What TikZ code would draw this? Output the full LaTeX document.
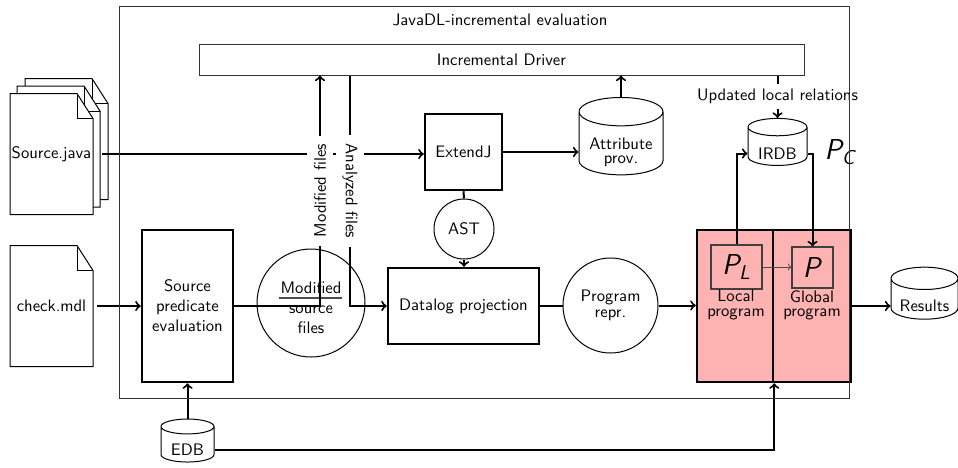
\documentclass[tikz,border=0pt]{standalone}
\usepackage{amsmath}
\usetikzlibrary{shapes.geometric,calc}

% dog-eared page outline centred at (#1,#2), 83 x 121 units
\newcommand\docoutline[2]{%
  \draw[line width=0.6pt, fill=white]
    ({#1-41.5},{#2-60.5}) -- ({#1+25.5},{#2-60.5}) -- ({#1+41.5},{#2-35.5})
    -- ({#1+41.5},{#2+60.5}) -- ({#1-41.5},{#2+60.5}) -- cycle;
  \draw[line width=0.6pt]
    ({#1+25.5},{#2-60.5}) -- ({#1+25.5},{#2-35.5}) -- ({#1+41.5},{#2-35.5});}
% invisible two-line block that sizes a cylinder's caps
\newcommand\capsize[2]{\phantom{\begin{tabular}{@{}c@{}}#1\\[-3.4pt]#2\end{tabular}}}

\begin{document}
\begin{tikzpicture}[x=0.6pt,y=-0.6pt,font=\sffamily,
  thinbox/.style={draw=black!80, line width=0.6pt, rectangle, inner sep=0pt},
  boldbox/.style={draw, line width=1.5pt, rectangle, fill=white, align=center, inner sep=0pt},
  roundnode/.style={draw, circle, line width=0.6pt, align=center, inner sep=0pt},
  dbnode/.style={draw, cylinder, shape border rotate=90, aspect=0.45, line width=0.6pt,
                 inner sep=0pt},
  docpage/.style={rectangle, inner sep=0pt, minimum width=49.8pt, minimum height=72.6pt},
  progbox/.style={draw, line width=1.5pt, fill=red!30, minimum width=45.6pt, minimum height=91.2pt},
  pbox/.style={draw=black!75, line width=0.7pt, inner sep=0pt},
  conn/.style={line width=1.2pt},
  thinconn/.style={line width=0.6pt, draw=black!70},
  tag/.style={fill=white, inner xsep=5pt, inner ysep=4pt},
  twoline/.style={align=center, inner sep=1pt}
]
\useasboundingbox (0,0) rectangle (958,467);

% input documents
\docoutline{66.5}{139}
\docoutline{58.5}{146.5}
\docoutline{51.5}{154}
\node[docpage] (srcjava) at (51.5,154) {Source.java};
\docoutline{51.5}{306}
\node[docpage] (checkmdl) at (51.5,306) {check.mdl};

% main blocks
\node[thinbox, minimum width=363pt, minimum height=18.6pt] (driver) at (501.5,59.5) {Incremental Driver};
\node[boldbox, minimum width=54.6pt, minimum height=91.2pt] (spe) at (187.5,306) {Source\\predicate\\evaluation};
\node[roundnode, minimum size=64.8pt] (msf) at (311,303) {};
\node[twoline] (msftxt) at (311,308) {Modified\\source\\files};
\draw[line width=1pt, black!70] ($(msf.center)+(-32,-5)$) -- ($(msf.center)+(31,-5)$);
\node[boldbox, minimum width=46.2pt, minimum height=45.6pt] (extendj) at (463.5,152) {ExtendJ};
\node[roundnode, minimum size=36pt] (ast) at (464,229) {AST};
\node[boldbox, minimum width=90.6pt, minimum height=45.6pt] (datalog) at (463.5,306) {Datalog projection};
\node[roundnode, minimum size=57pt] (prog) at (610.5,305.5) {Program\\[-2.4pt]repr.};

% databases
\node[dbnode, minimum width=50.4pt, minimum height=43.8pt] (attr) at (621,143.5) {\capsize{Attribute}{prov.}};
\node[twoline] (attrtxt) at (621,152) {Attribute\\[-3.4pt]prov.};
\node[dbnode, minimum width=35.4pt, minimum height=28.2pt] (irdb) at (777.5,146.5) {\phantom{IRDB}};
\node (irdbtxt) at (777.5,153.5) {IRDB};
\node[dbnode, minimum width=40.2pt, minimum height=31.2pt] (results) at (924.5,299) {\phantom{Results}};
\node (resultstxt) at (924.5,306) {Results};
\node[dbnode, minimum width=31.8pt, minimum height=25.8pt] (edb) at (187.5,444.5) {\phantom{EDB}};
\node (edbtxt) at (187.5,450) {EDB};
\node (pc) at (840,152) {\LARGE$\textsl{P}_{\textsl{C}}$};

% local / global program
\node[progbox] (local) at (735,306) {};
\node[progbox, minimum width=46.8pt] (global) at (812,306) {};
\node[pbox, minimum width=30.6pt, minimum height=26.4pt] (pl) at (736.5,267) {\LARGE$\textsl{P}_{\textsl{L}}$};
\node[pbox, minimum width=24.6pt, minimum height=24.6pt] (p) at (812.5,267.5) {\LARGE\textsl{P}};
\node[twoline] (localtxt) at (736,305) {Local\\[-3.5pt]program};
\node[twoline] (globaltxt) at (812,305) {Global\\[-3.5pt]program};

% connectors
\coordinate (modx) at (320,306);
\coordinate (anx) at (350,306);
\draw[conn,->] ([xshift=5.4pt]srcjava.east) -- (srcjava.east -| extendj.west);
\draw[conn,->] (checkmdl.east) ++(2.4pt,0) -- (checkmdl.east -| spe.west);
\draw[conn,->] (spe.east) -- (modx) -- node[tag, rotate=90] {Modified files} (modx |- driver.south);
\draw[conn,->] (driver.south -| anx) -- node[tag, rotate=-90] {Analyzed files} (anx) -- (anx -| datalog.west);
\draw[conn] (extendj.south) -- (ast.north);
\draw[conn,->] (ast.south) -- (ast.south |- datalog.north);
\draw[conn,->] (extendj.east) -- (extendj.east -| attr.west);
\draw[conn,->] (attr.north) -- (attr.north |- driver.south);
\draw[conn] (datalog.east) -- (datalog.east -| prog.west);
\draw[conn,->] (prog.east) -- (prog.east -| local.west);
\draw[conn,->] (global.east) -- (global.east -| results.west);
\draw[thinconn,->] (pl.east) -- (pl.east -| p.west);
\draw[conn,->] (pl.north) |- (irdb.west |- irdbtxt);
\draw[conn,->] (irdb.east |- irdbtxt) -| (p.north);
\draw[conn,->] (driver.south -| irdb.north) -- node[tag, inner ysep=3pt] {Updated local relations} (irdb.north);
\draw[conn,->] (edb.north) -- (edb.north |- spe.south);
\draw[conn,->] (edb.east |- edbtxt) -| (local.south east);

% enclosing frame
\node[thinbox, minimum width=438pt, minimum height=235.2pt] (frame) at (484,202) {};
\node (title) at (500,20) {JavaDL-incremental evaluation};
\end{tikzpicture}
\end{document}
